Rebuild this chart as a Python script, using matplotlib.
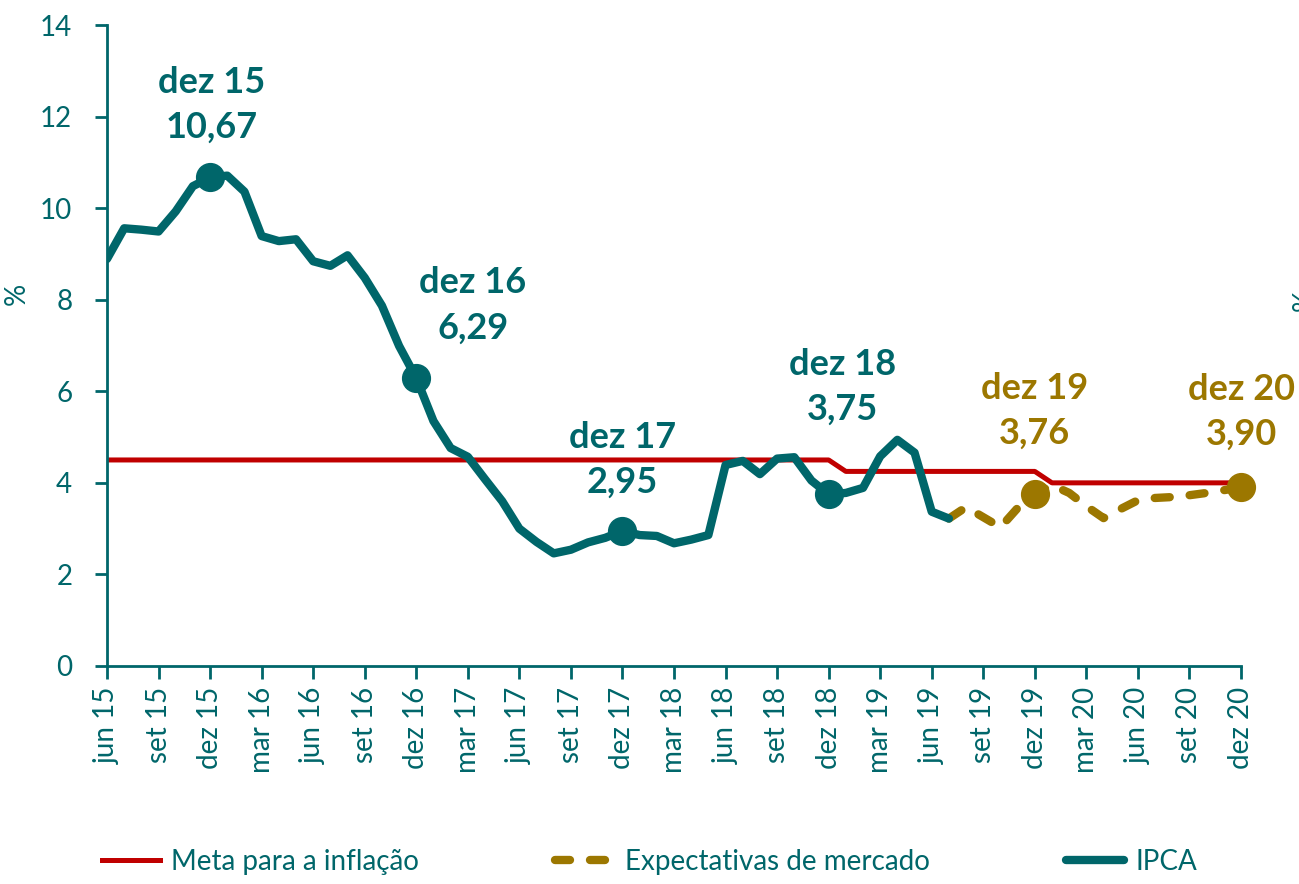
import matplotlib.pyplot as plt

# months from jun 15 (index 0) to dez 20 (index 66)
tick_labels = ["jun 15", "set 15", "dez 15", "mar 16", "jun 16", "set 16", "dez 16", "mar 17",
               "jun 17", "set 17", "dez 17", "mar 18", "jun 18", "set 18", "dez 18", "mar 19",
               "jun 19", "set 19", "dez 19", "mar 20", "jun 20", "set 20", "dez 20"]

# IPCA 12m, jun 15 .. jul 19
ipca = [8.89, 9.56, 9.53, 9.49, 9.93, 10.48, 10.67,
        10.71, 10.36, 9.39, 9.28, 9.32, 8.84, 8.74, 8.97, 8.48, 7.87, 6.99, 6.29,
        5.35, 4.76, 4.57, 4.08, 3.60, 3.00, 2.71, 2.46, 2.54, 2.70, 2.80, 2.95,
        2.86, 2.84, 2.68, 2.76, 2.86, 4.39, 4.48, 4.19, 4.53, 4.56, 4.05, 3.75,
        3.78, 3.89, 4.58, 4.94, 4.66, 3.37, 3.22]

# market expectations, jul 19 .. dez 20
expect = [3.22, 3.47, 3.25, 3.03, 3.45, 3.76,
          3.95, 3.78, 3.49, 3.23, 3.43, 3.62, 3.67, 3.69, 3.73, 3.78, 3.84, 3.90]

# inflation target per month, jun 15 .. dez 20
meta = [4.5] * 43 + [4.25] * 12 + [4.0] * 12

highlight_labels = ["dez 15", "dez 16", "dez 17", "dez 18", "dez 19", "dez 20"]
highlight_x = [6, 18, 30, 42, 54, 66]
highlight_y = [10.67, 6.29, 2.95, 3.75, 3.76, 3.90]
text_x = [6.1, 21.3, 30, 42.8, 54, 66]
text_y = [12.25, 7.88, 4.5, 6.09, 5.57, 5.55]

teal = "#00666A"
red = "#C00000"
gold = "#9C7700"

plt.rcParams['font.family'] = ['Lato', 'DejaVu Sans']

fig = plt.figure(figsize=(12.99, 8.84), dpi=100)
ax = fig.add_axes([107 / 1299, 1 - 666 / 884, (1241 - 107) / 1299, (666 - 25) / 884])

x_ipca = list(range(len(ipca)))
x_exp = list(range(len(ipca) - 1, len(ipca) - 1 + len(expect)))
x_meta = list(range(len(meta)))

ax.plot(x_meta, meta, color=red, lw=3.6, label="Meta para a inflação", zorder=2)
ax.plot(x_exp, expect, color=gold, lw=6, ls=(0, (1.8, 2.4)), label="Expectativas de mercado",
        dash_capstyle='round', zorder=3)
ax.plot(x_ipca, ipca, color=teal, lw=6, label="IPCA", solid_capstyle='round', zorder=4)

for i, (hx, hy) in enumerate(zip(highlight_x, highlight_y)):
    c = gold if hx > 48 else teal
    ax.plot(hx, hy, 'o', color=c, ms=20, zorder=5, clip_on=False)
    ax.text(text_x[i], text_y[i], f"{highlight_labels[i]}\n{hy:.2f}".replace(".", ","),
            ha='center', va='center', color=c, fontsize=26, fontweight='bold',
            linespacing=1.45, zorder=6)

ax.set_xlim(0, 66)
ax.set_ylim(0, 14)
ax.set_xticks(list(range(0, 67, 3)))
ax.set_xticklabels(tick_labels, rotation=90, fontsize=20, color=teal)
ax.set_yticks(list(range(0, 15, 2)))
ax.set_yticklabels([str(v) for v in range(0, 15, 2)], fontsize=20, color=teal)
ax.tick_params(axis='both', colors=teal, length=9, width=2, direction='out')
ax.tick_params(axis='y', pad=16)
ax.tick_params(axis='x', pad=6)

for side in ['top', 'right']:
    ax.spines[side].set_visible(False)
for side in ['left', 'bottom']:
    ax.spines[side].set_color(teal)
    ax.spines[side].set_linewidth(2)

ax.set_ylabel("%", fontsize=20, color=teal)
ax.yaxis.set_label_coords(-0.068, 0.58)
fig.text(1292 / 1299, 1 - 300 / 884, "%", fontsize=20, color=teal, rotation=90, va='center', ha='left')

leg = fig.legend(loc='center', bbox_to_anchor=(0.5, 1 - 862 / 884), ncol=3, frameon=False,
                 fontsize=20, handlelength=2.1, handletextpad=0.4, columnspacing=4.9)
for t in leg.get_texts():
    t.set_color(teal)

fig.savefig("out.png", dpi=100)
